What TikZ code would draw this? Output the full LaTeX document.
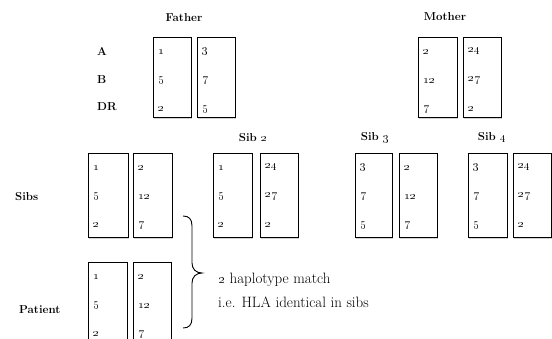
\documentclass[tikz,border=0pt]{standalone}
\usetikzlibrary{shadows}
\tikzset{
  hbox/.style={draw=black, line width=0.8pt, fill=white, inner sep=0pt, anchor=north west,
    drop shadow={shadow xshift=0.6pt, shadow yshift=-1.3pt, opacity=0.35}},
  num/.style={anchor=west, inner sep=0pt, font=\fontsize{12.5}{14}\selectfont},
  lbl/.style={inner sep=0pt, font=\fontsize{11.5}{13}\selectfont\bfseries},
  body/.style={anchor=base west, inner sep=0pt, font=\fontsize{15}{18}\selectfont},
  brace/.style={draw=black, line width=0.9pt}
}
\newcommand\hlacol[8]{%
  \node[hbox, minimum width={(#3-#2)*1pt}, minimum height={(#5-#4)*1pt}] (#1) at (#2,#4) {};
  \node[num] (#1-a) at (#2+5.5,#4+14.5) {\oldstylenums{#6}};
  \node[num] (#1-b) at (#2+5.5,#4+43.5) {\oldstylenums{#7}};
  \node[num] (#1-c) at (#2+5.5,#4+72) {\oldstylenums{#8}};
}
\begin{document}
\begin{tikzpicture}[x=1pt,y=-1pt]
\clip (0,0) rectangle (552,338);
% Father
\node[lbl] (father) at (184,18) {Father};
\node[lbl, anchor=west] (rowA) at (97,51) {A};
\node[lbl, anchor=west] (rowB) at (97,80) {B};
\node[lbl, anchor=west] (rowDR) at (97,107) {DR};
\hlacol{f1}{153}{191}{37}{117}{1}{5}{2}
\hlacol{f2}{197}{235}{37}{117}{3}{7}{5}
% Mother
\node[lbl] (mother) at (445,17) {Mother};
\hlacol{m1}{418}{457}{37}{117}{2}{12}{7}
\hlacol{m2}{463}{501}{37}{117}{24}{27}{2}
% Sibs
\node[lbl, anchor=west] (sibs) at (15,197) {Sibs};
\hlacol{s1a}{88}{128}{153}{237}{1}{5}{2}
\hlacol{s1b}{133}{172}{153}{237}{2}{12}{7}
\node[lbl] (sib2) at (253,138) {Sib \oldstylenums{2}};
\hlacol{s2a}{213}{252}{153}{237}{1}{5}{2}
\hlacol{s2b}{260}{298}{153}{237}{24}{27}{2}
\node[lbl] (sib3) at (375,138) {Sib \oldstylenums{3}};
\hlacol{s3a}{355}{392}{153}{237}{3}{7}{5}
\hlacol{s3b}{399}{437}{153}{237}{2}{12}{7}
\node[lbl] (sib4) at (492,138) {Sib \oldstylenums{4}};
\hlacol{s4a}{468}{507}{153}{237}{3}{7}{5}
\hlacol{s4b}{513}{551}{153}{237}{24}{27}{2}
% Patient
\node[lbl, anchor=west] (patient) at (19,310) {Patient};
\hlacol{p1}{88}{127}{262}{346}{1}{5}{2}
\hlacol{p2}{133}{171}{262}{346}{2}{12}{7}
% Brace
\coordinate (btop) at (183,216);
\coordinate (btip) at (202,273);
\coordinate (bbot) at (183,328);
\draw[brace] (btop) .. controls (189,216) and (192,219) .. (192,226)
  -- (192,263) .. controls (192,269) and (196,273) .. (btip)
  .. controls (196,273) and (192,277) .. (192,283)
  -- (192,318) .. controls (192,325) and (189,328) .. (bbot);
\node[body] (match) at (218,283) {\oldstylenums{2} haplotype match};
\node[body] (ident) at (218,307) {i.e. HLA identical in sibs};
\end{tikzpicture}
\end{document}
